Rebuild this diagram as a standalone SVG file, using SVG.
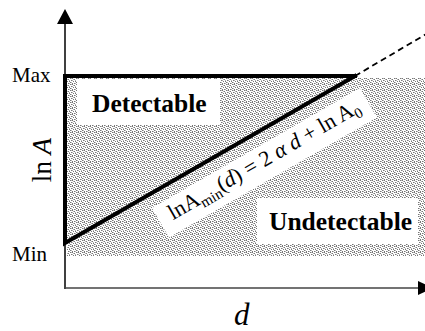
<svg xmlns="http://www.w3.org/2000/svg" width="425" height="331" viewBox="0 0 425 331">
<defs>
<pattern id="stip" width="6" height="6" patternUnits="userSpaceOnUse">
<rect width="6" height="6" fill="#ffffff"/>
<path d="M0 0h1v1h-1zM4 0h1v1h-1zM2 1h1v1h-1zM5 2h1v1h-1zM1 3h1v1h-1zM3 3h1v1h-1zM0 5h1v1h-1zM4 4h1v1h-1zM2 5h1v1h-1z" fill="#777"/>
<path d="M1 1h1v1h-1zM3 2h1v1h-1zM5 4h1v1h-1zM0 2h1v1h-1zM3 5h1v1h-1zM5 0h1v1h-1z" fill="#b4b4b4"/>
</pattern>
<style>
.tick{font-family:"Liberation Serif","Times New Roman",serif;font-size:21px;fill:#000}
.reg{font-family:"Liberation Serif","Times New Roman",serif;font-size:25.5px;font-weight:bold;fill:#000}
.eq{font-family:"Liberation Serif","Times New Roman",serif;font-size:22px;fill:#000}
.thick{stroke:#000;stroke-width:4;fill:none;stroke-linecap:square}
</style>
</defs>
<g id="shaded-region">
<rect x="67" y="78" width="358" height="178" fill="url(#stip)"/>
</g>
<g id="axes">
<line x1="65" y1="24" x2="65" y2="289" stroke="#000" stroke-width="1.5"/>
<polygon points="65,9 57,24 73,24" fill="#000"/>
<line x1="65" y1="288" x2="419" y2="288" stroke="#444" stroke-width="1.6"/>
<polygon points="418,281 418,295 433,288" fill="#000"/>
</g>
<g id="detectable">
<rect x="77" y="79" width="143" height="46" fill="#fff"/>
<text class="reg" x="92" y="112">Detectable</text>
</g>
<g id="undetectable">
<rect x="257" y="198" width="161" height="46" fill="#fff"/>
<text class="reg" x="269" y="230">Undetectable</text>
</g>
<g id="connectors">
<polyline class="thick" points="355,76 65,76 65,243 355,76"/>
<line x1="355" y1="76" x2="428" y2="33" stroke="#000" stroke-width="1.8" stroke-dasharray="6,4"/>
</g>
<g id="formula" transform="translate(152,208) rotate(-30)">
<rect x="0" y="0" width="240" height="34" fill="#fff"/>
<text class="eq" x="12" y="21">lnA<tspan font-size="15" dy="5">min</tspan><tspan dy="-5">(</tspan><tspan font-style="italic">d</tspan>) = 2 <tspan font-style="italic">α d</tspan> + ln A<tspan font-size="15" dy="5">0</tspan></text>
</g>
<g id="labels">
<text class="tick" x="12" y="82">Max</text>
<text class="tick" x="12" y="261">Min</text>
<text transform="translate(51,160) rotate(-90)" text-anchor="middle" style="font-family:'Liberation Serif','Times New Roman',serif;font-size:27px">ln <tspan font-style="italic">A</tspan></text>
<text x="234" y="325" style="font-family:'Liberation Serif','Times New Roman',serif;font-size:31px;font-style:italic">d</text>
</g>
</svg>
